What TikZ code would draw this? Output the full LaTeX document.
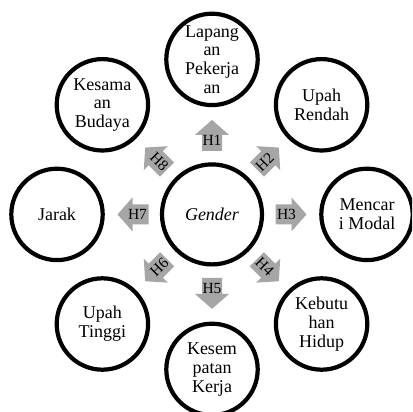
\documentclass[tikz,border=0pt]{standalone}
\usepackage{fontspec}
\setmainfont{Liberation Serif}
\definecolor{arrowgray}{RGB}{166,166,166}
\tikzset{
  hub/.style={circle, draw=black, line width=4.2pt, minimum size=100pt, inner sep=0pt},
  spoke/.style={circle, draw=black, line width=4.2pt, minimum size=91.4pt, inner sep=0pt},
  spoketext/.style={inner sep=0pt, align=center, font=\fontsize{18}{18.7}\selectfont},
  hubtext/.style={inner sep=0pt, font=\fontsize{18}{19}\selectfont\itshape},
  hlabel/.style={inner sep=0pt, font=\fontsize{15.5}{16}\selectfont},
}
\begin{document}
\begin{tikzpicture}
\useasboundingbox (0pt,0pt) rectangle (412pt,-412pt);
\clip (0pt,0pt) rectangle (412pt,-412pt);
\begin{scope}[shift={(212pt,-214.4pt)}]
  \node[hub] (g) at (0pt,0pt) {};
  \node[hubtext] (gt) at (g) {Gender};
  \node[spoke] (c1) at (90:155pt) {};
  \node[spoke] (c2) at (45:155pt) {};
  \node[spoke] (c3) at (0:155pt) {};
  \node[spoke] (c4) at (-45:155pt) {};
  \node[spoke] (c5) at (-90:155pt) {};
  \node[spoke] (c6) at (-135:155pt) {};
  \node[spoke] (c7) at (180:155pt) {};
  \node[spoke] (c8) at (135:155pt) {};
  \node[spoketext] (t1) at (c1) {Lapang\\an\\Pekerja\\an};
  \node[spoketext] (t2) at (c2) {Upah\\Rendah};
  \node[spoketext] (t3) at (c3) {Mencar\\i Modal};
  \node[spoketext] (t4) at (c4) {Kebutu\\han\\Hidup};
  \node[spoketext] (t5) at (c5) {Kesem\\patan\\Kerja};
  \node[spoketext] (t6) at (c6) {Upah\\Tinggi};
  \node[spoketext] (t7) at (c7) {Jarak};
  \node[spoketext] (t8) at (c8) {Kesama\\an\\Budaya};
  \foreach \a/\t/\r/\n in {90/H1/0/1, 45/H2/45/2, 0/H3/0/3, -45/H4/-45/4, -90/H5/0/5, -135/H6/45/6, 180/H7/0/7, 135/H8/-45/8}{
    \begin{scope}[shift={(\a:79pt)}, rotate=\a]
      \fill[arrowgray] (-15.5pt,-10pt) -- (0.5pt,-10pt) -- (0.5pt,-17pt) -- (15.5pt,0pt)
        -- (0.5pt,17pt) -- (0.5pt,10pt) -- (-15.5pt,10pt) -- cycle;
    \end{scope}
    \node[hlabel, rotate=\r] (h\n) at (\a:74.5pt) {\t};
  }
\end{scope}
\end{tikzpicture}
\end{document}
